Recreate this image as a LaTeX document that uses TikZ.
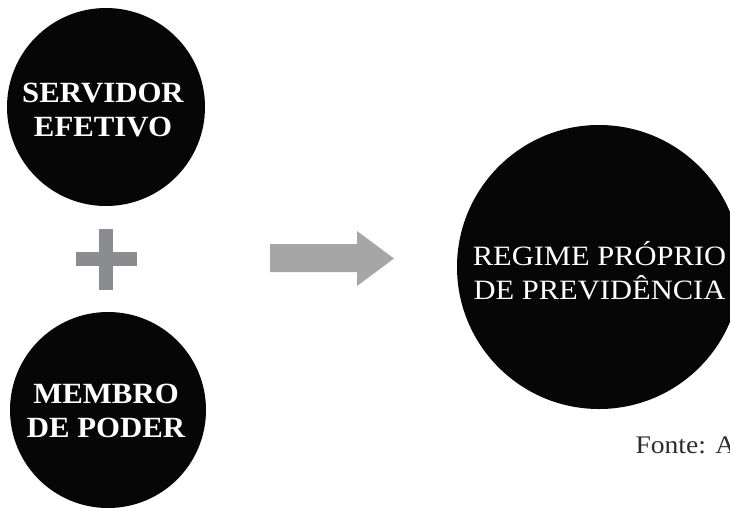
\documentclass[tikz,border=0pt]{standalone}
\usepackage{fontspec}
\setmainfont{Liberation Serif}[FakeStretch=1.09]
\newfontfamily\circlebold{Liberation Serif Bold}[FakeStretch=1.05]
\definecolor{plusgray}{RGB}{139,140,144}
\definecolor{arrowgray}{RGB}{166,166,166}
\definecolor{fontegray}{RGB}{45,45,45}
\tikzset{every picture/.style={line width=0.75pt}}

\begin{document}
\begin{tikzpicture}[x=0.75pt,y=0.75pt,yscale=-1,xscale=1]
%set diagram size to the reference
\path [use as bounding box] (0,0) rectangle (730,507);
\clip (0,0) rectangle (730,507);

%Shape: Circle
\fill [fill={rgb,255:red,6;green,6;blue,6}] (106,107) circle (99);
%Shape: Circle
\fill [fill={rgb,255:red,6;green,6;blue,6}] (108,410) circle (98);
%Shape: Circle
\fill [fill={rgb,255:red,6;green,6;blue,6}] (599,267) circle (142);

%Shape: Plus
\fill [plusgray] (76,252) rectangle (137,266);
\fill [plusgray] (99,229) rectangle (113,290);

%Shape: Right Arrow
\fill [arrowgray] (270,244) -- (357,244) -- (357,231) -- (394,258.5) -- (357,286) -- (357,272) -- (270,272) -- cycle;

% Text Node
\draw (103,110) node [text=white][inner sep=0.75pt][align=center][font=\circlebold\fontsize{22}{26}\selectfont] (servidor) {SERVIDOR\\EFETIVO};
% Text Node
\draw (106,411) node [text=white][inner sep=0.75pt][align=center][font=\circlebold\fontsize{22}{26}\selectfont] (membro) {MEMBRO\\DE PODER};
% Text Node
\draw (599.5,271) node [text=white][inner sep=0.75pt][align=center][font=\fontsize{21}{25.5}\selectfont] (regime) {REGIME PRÓPRIO\\DE PREVIDÊNCIA};
% Text Node
\draw (635,453) node [anchor=base west][inner sep=0pt][text=fontegray][font=\fontsize{19}{21}\selectfont] (fonte) {Fonte: A};

\end{tikzpicture}
\end{document}
